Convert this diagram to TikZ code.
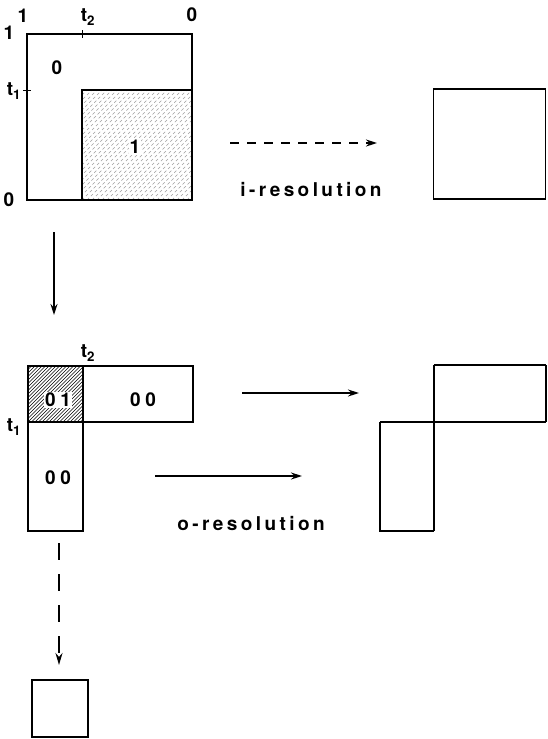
\documentclass[tikz,border=0pt]{standalone}
\usepackage{fontspec}
\setmainfont{TeX Gyre Heros}
\usetikzlibrary{arrows.meta}
\tikzset{
  lab/.style={font=\fontsize{19}{19}\selectfont\bfseries, inner sep=0pt},
  pair/.style={font=\fontsize{19}{19}\selectfont\bfseries\addfontfeatures{LetterSpace=25}, inner sep=0pt},
  caption/.style={font=\fontsize{19}{19}\selectfont\bfseries\addfontfeatures{LetterSpace=18}, inner sep=0pt},
  thickbox/.style={draw=black, line width=1.7pt},
  thinbox/.style={draw=black, line width=1.1pt},
  solidarrow/.style={line width=1.5pt, -{Stealth[length=11pt,width=7pt]}},
  dasharrow/.style={line width=1.7pt, dash pattern=on 9pt off 8pt, -{Stealth[length=11pt,width=7pt]}},
}
\begin{document}
\begin{tikzpicture}[x=1pt,y=-1pt]
\useasboundingbox (0,0) rectangle (547,739);

% ---------- top-left figure ----------
\coordinate (A1) at (27,34);
\coordinate (A2) at (192,200);
% sparse hatching
\begin{scope}
  \clip (82,90) rectangle (192,200);
  \foreach \k in {0,5,...,230} {
    \draw[gray!75, line width=0.6pt, dash pattern=on 3pt off 2.5pt] (82+\k-110,200) -- (82+\k,90);
  }
\end{scope}
\draw[thinbox] (82,200) -- (82,90) -- (192,90);
\draw[thickbox] (A1) rectangle (A2);
\draw[line width=1pt] (82,30) -- (82,38);
\draw[line width=1pt] (23,90) -- (31,90);
\node[lab] (l1a) at (23,16) {1};
\node[lab] (lt2a) at (88,17) {t\textsubscript{2}};
\node[lab] (l0a) at (192,15) {0};
\node[lab] (l1b) at (9,33) {1};
\node[lab] (lt1a) at (14,91) {t\textsubscript{1}};
\node[lab] (l0b) at (9,200) {0};
\node[lab] (l0c) at (57,68) {0};
\node[lab, fill=white, inner sep=1pt] (l1c) at (135,147) {1};

% i-resolution
\node (sq1) at (489.5,144) [thickbox, minimum width=112pt, minimum height=110pt, inner sep=0pt, line width=1.5pt] {};
\coordinate (d1s) at (230,143);
\coordinate (d1e) at (377,143);
\draw[dasharrow] (d1s) -- (d1e);
\node[caption] (ires) at (311,190) {i-resolution};

% vertical arrow
\coordinate (v1s) at (54,232);
\coordinate (v1e) at (54,315);
\draw[solidarrow] (v1s) -- (v1e);

% ---------- second figure ----------
\begin{scope}
  \clip (28,366) rectangle (83,422);
  \foreach \k in {0,3.5,...,120} {
    \draw[black, line width=0.6pt] (28+\k-56,422) -- (28+\k,366);
  }
\end{scope}
\node[pair, fill=white, inner sep=1pt] (l01) at (58,400) {01};
\draw[thickbox] (28,366) rectangle (83,422);
\draw[thinbox] (83,366) -- (193,366) -- (193,422) -- (83,422);
\draw[line width=1.7pt] (83,366) -- (193,366);
\draw[thinbox] (28,422) -- (28,531) -- (83,531) -- (83,422);
\draw[line width=1.7pt] (28,422) -- (28,531) -- (83,531);
\node[pair] (l00a) at (143,400) {00};
\node[pair] (l00b) at (58,478) {00};
\node[lab] (lt2b) at (88,353) {t\textsubscript{2}};
\node[lab] (lt1b) at (14,427) {t\textsubscript{1}};

% o-resolution arrows
\coordinate (o1s) at (242,393);
\coordinate (o1e) at (359,393);
\draw[solidarrow] (o1s) -- (o1e);
\coordinate (o2s) at (155,476);
\coordinate (o2e) at (302,476);
\draw[solidarrow] (o2s) -- (o2e);
\node[caption] (ores) at (251,524) {o-resolution};

% right figure
\draw[line width=1.6pt] (434,365) -- (546,365);
\draw[line width=1.1pt] (546,365) -- (546,422);
\draw[line width=1.6pt] (434,422) -- (546,422);
\draw[line width=1.6pt] (434,365) -- (434,531);
\draw[line width=1.1pt] (380,422) -- (434,422);
\draw[line width=1.3pt] (380,422) -- (380,531) -- (434,531);

% dashed down arrow
\coordinate (v2s) at (59,543);
\coordinate (v2e) at (59,665);
\draw[line width=1.8pt, dash pattern=on 17pt off 14pt, -{Stealth[length=12pt,width=7pt]}] (v2s) -- (v2e);
\node (sq2) at (60,708.5) [thickbox, line width=1.5pt, minimum width=56pt, minimum height=57pt, inner sep=0pt] {};
\end{tikzpicture}
\end{document}
